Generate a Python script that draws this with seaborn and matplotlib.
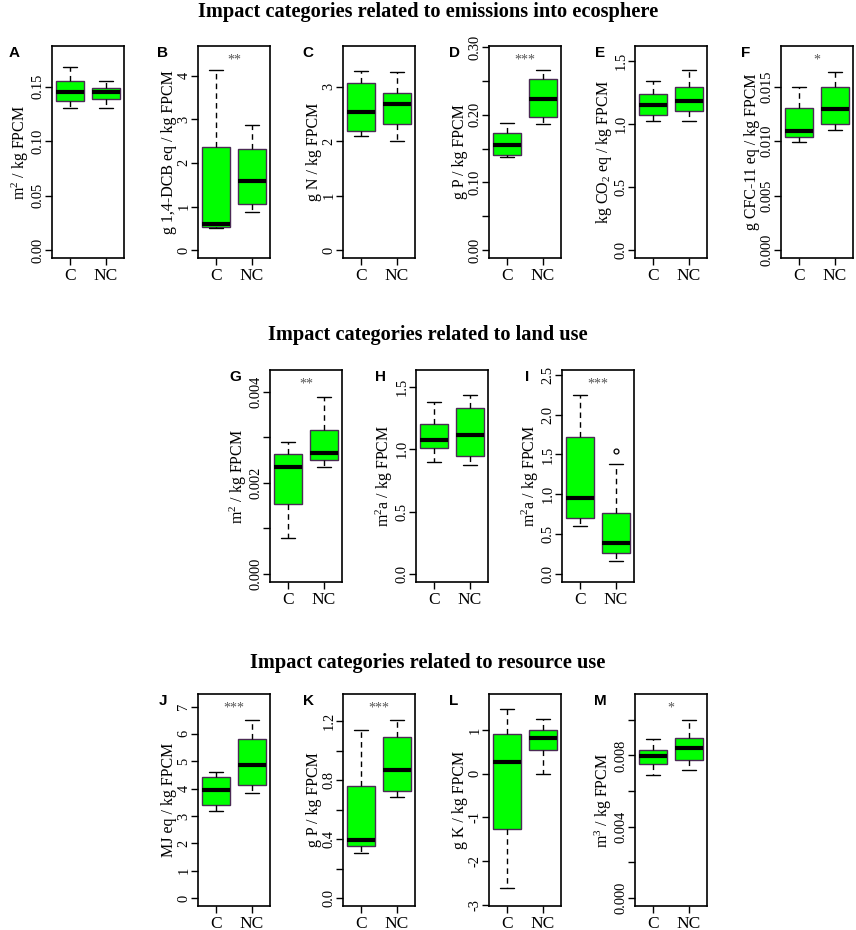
import numpy as np
import pandas as pd
import matplotlib
matplotlib.use('Agg')
import matplotlib.pyplot as plt
import matplotlib.transforms as mtransforms
import seaborn as sns

sns.set_style('ticks')
plt.rcParams['font.family'] = ['Liberation Serif', 'DejaVu Serif']
plt.rcParams['mathtext.fontset'] = 'custom'
plt.rcParams['mathtext.rm'] = 'Liberation Serif'
plt.rcParams['mathtext.it'] = 'Liberation Serif:italic'
plt.rcParams['text.color'] = 'black'
plt.rcParams['axes.labelcolor'] = 'black'
plt.rcParams['xtick.color'] = 'black'
plt.rcParams['ytick.color'] = 'black'

# groups on the x axis
groups = ['C', 'NC']

# values per panel (C, NC)
A_C = [0.130, 0.137, 0.145, 0.155, 0.168]
A_NC = [0.130, 0.139, 0.145, 0.149, 0.155]
B_C = [0.50, 0.52, 0.60, 2.36, 4.14]
B_NC = [0.88, 1.06, 1.59, 2.31, 2.87]
C_C = [2.10, 2.18, 2.54, 3.06, 3.29]
C_NC = [2.01, 2.32, 2.68, 2.89, 3.26]
D_C = [0.137, 0.140, 0.156, 0.173, 0.188]
D_NC = [0.186, 0.196, 0.224, 0.253, 0.266]
E_C = [1.025, 1.075, 1.157, 1.244, 1.342]
E_NC = [1.030, 1.109, 1.189, 1.294, 1.429]
F_C = [0.00988, 0.01033, 0.01093, 0.01304, 0.0150]
F_NC = [0.01102, 0.01154, 0.01298, 0.01494, 0.0163]
G_C = [0.00080, 0.00154, 0.00234, 0.00264, 0.00290]
G_NC = [0.00235, 0.00251, 0.00266, 0.00316, 0.00388]
H_C = [0.898, 1.012, 1.076, 1.199, 1.377]
H_NC = [0.871, 0.946, 1.111, 1.332, 1.430]
I_C = [0.604, 0.70, 0.958, 1.72, 2.24]
I_NC = [0.167, 0.21, 0.2625, 0.33, 0.396, 0.55, 0.7625, 1.375, 1.54]
J_C = [3.18, 3.41, 3.95, 4.43, 4.60]
J_NC = [3.83, 4.14, 4.88, 5.82, 6.51]
K_C = [0.306, 0.356, 0.396, 0.761, 1.144]
K_NC = [0.686, 0.727, 0.871, 1.092, 1.211]
L_C = [-2.61, -1.264, 0.28, 0.914, 1.485]
L_NC = [0.0, 0.548, 0.83, 1.005, 1.249]
M_C = [0.00692, 0.00750, 0.00798, 0.00832, 0.00893]
M_NC = [0.0072, 0.00776, 0.00841, 0.00897, 0.0100]

# y axis labels
ylabels = {
    'A': 'm$^{\\mathrm{2}}$ / kg FPCM',
    'B': 'g 1,4-DCB eq / kg FPCM',
    'C': 'g N / kg FPCM',
    'D': 'g P / kg FPCM',
    'E': 'kg CO$_{\\mathrm{2}}$ eq / kg FPCM',
    'F': 'g CFC-11 eq / kg FPCM',
    'G': 'm$^{\\mathrm{2}}$ / kg FPCM',
    'H': 'm$^{\\mathrm{2}}$a / kg FPCM',
    'I': 'm$^{\\mathrm{2}}$a / kg FPCM',
    'J': 'MJ eq / kg FPCM',
    'K': 'g P / kg FPCM',
    'L': 'g K / kg FPCM',
    'M': 'm$^{\\mathrm{3}}$ / kg FPCM',
}

# y ticks and their labels ('' = tick without label)
yticks = {
    'A': ([0, 0.05, 0.10, 0.15], ['0.00', '0.05', '0.10', '0.15']),
    'B': ([0, 1, 2, 3, 4], ['0', '1', '2', '3', '4']),
    'C': ([0, 1, 2, 3], ['0', '1', '2', '3']),
    'D': ([0, 0.05, 0.10, 0.15, 0.20, 0.25, 0.30], ['0.00', '', '0.10', '', '0.20', '', '0.30']),
    'E': ([0, 0.5, 1.0, 1.5], ['0.0', '0.5', '1.0', '1.5']),
    'F': ([0, 0.005, 0.010, 0.015], ['0.000', '0.005', '0.010', '0.015']),
    'G': ([0, 0.001, 0.002, 0.003, 0.004], ['0.000', '', '0.002', '', '0.004']),
    'H': ([0, 0.5, 1.0, 1.5], ['0.0', '0.5', '1.0', '1.5']),
    'I': ([0, 0.5, 1.0, 1.5, 2.0, 2.5], ['0.0', '0.5', '1.0', '1.5', '2.0', '2.5']),
    'J': ([0, 1, 2, 3, 4, 5, 6, 7], ['0', '1', '2', '3', '4', '5', '6', '7']),
    'K': ([0, 0.2, 0.4, 0.6, 0.8, 1.0, 1.2], ['0.0', '', '0.4', '', '0.8', '', '1.2']),
    'L': ([-3, -2, -1, 0, 1], ['-3', '-2', '-1', '0', '1']),
    'M': ([0, 0.002, 0.004, 0.006, 0.008, 0.010], ['0.000', '', '0.004', '', '0.008', '']),
}

# R style ylim (min, max) before the 4% padding
ylims = {
    'A': (0, 0.18), 'B': (0, 4.5), 'C': (0, 3.6), 'D': (0, 0.29),
    'E': (0, 1.56), 'F': (0, 0.018), 'G': (0, 0.0043), 'H': (0, 1.57),
    'I': (0, 2.46), 'J': (0, 7.17), 'K': (0, 1.333), 'L': (-2.85, 1.65),
    'M': (0, 0.011),
}

stars = {'B': '**', 'D': '***', 'F': '*', 'G': '**', 'I': '***',
         'J': '***', 'K': '***', 'M': '*'}

data = {
    'A': (A_C, A_NC), 'B': (B_C, B_NC), 'C': (C_C, C_NC), 'D': (D_C, D_NC),
    'E': (E_C, E_NC), 'F': (F_C, F_NC), 'G': (G_C, G_NC), 'H': (H_C, H_NC),
    'I': (I_C, I_NC), 'J': (J_C, J_NC), 'K': (K_C, K_NC), 'L': (L_C, L_NC),
    'M': (M_C, M_NC),
}

W, H = 856, 930
col_left = [52, 198, 343, 489, 635, 781]
row_top = [46, 370, 694]
panel_w, panel_h = 72, 212

layout = {
    'A': (0, 0), 'B': (0, 1), 'C': (0, 2), 'D': (0, 3), 'E': (0, 4), 'F': (0, 5),
    'G': (1, 270), 'H': (1, 416), 'I': (1, 562),
    'J': (2, 1), 'K': (2, 2), 'L': (2, 3), 'M': (2, 4),
}

titles = [
    (12, 'Impact categories related to emissions into ecosphere'),
    (335, 'Impact categories related to land use'),
    (663, 'Impact categories related to resource use'),
]

fig = plt.figure(figsize=(W / 100, H / 100), dpi=100)

for y, t in titles:
    fig.text(0.5, 1 - y / H, t, ha='center', va='center',
             fontsize=14.7, fontweight='bold')

for key, (row, pos) in layout.items():
    left = pos if row == 1 else col_left[pos]
    top = row_top[row]
    ax = fig.add_axes([left / W, 1 - (top + panel_h) / H, panel_w / W, panel_h / H])

    c_vals, nc_vals = data[key]
    df = pd.DataFrame({
        'group': ['C'] * len(c_vals) + ['NC'] * len(nc_vals),
        'value': list(c_vals) + list(nc_vals),
    })

    sns.boxplot(data=df, x='group', y='value', order=groups, ax=ax,
                color='#00ff00', saturation=1, width=0.8,
                linecolor='#4b2a55', linewidth=1.0, whis=1.5,
                medianprops=dict(color='black', linewidth=3),
                whiskerprops=dict(color='black', linestyle=(0, (4, 3)), linewidth=1.0),
                capprops=dict(color='black', linewidth=1.0),
                flierprops=dict(marker='o', markersize=3.5, markerfacecolor='none',
                                markeredgecolor='black', markeredgewidth=0.9))

    lo, hi = ylims[key]
    pad = 0.04 * (hi - lo)
    ax.set_ylim(lo - pad, hi + pad)
    ax.set_xlim(-0.5, 1.5)

    ticks, labels = yticks[key]
    ax.set_yticks(ticks)
    ax.set_yticklabels(labels, rotation=90, va='center')
    ax.set_xticks([0, 1])
    ax.set_xticklabels(groups)

    ax.set_xlabel('')
    ax.set_ylabel(ylabels[key], fontsize=11.5, labelpad=0.5)
    ax.tick_params(axis='both', direction='out', length=5, width=1.0,
                   color='black')
    ax.tick_params(axis='y', labelsize=10.4, pad=0.5)
    ax.tick_params(axis='x', labelsize=12.5, pad=2)
    for sp in ax.spines.values():
        sp.set_visible(True)
        sp.set_linewidth(1.2)
        sp.set_color('black')

    if key in stars:
        trans = mtransforms.blended_transform_factory(ax.transData, ax.transAxes)
        ax.text(0.5, 0.935, stars[key], transform=trans, ha='center', va='center',
                fontsize=10, color='#555555')

    off = 38 if key == 'A' else 35
    ax.text((left - off) / W, 1 - (top + 7) / H, key, transform=fig.transFigure,
            ha='center', va='center', fontsize=11, fontweight='bold',
            family='Liberation Sans')

fig.savefig('out.png', dpi=100)
